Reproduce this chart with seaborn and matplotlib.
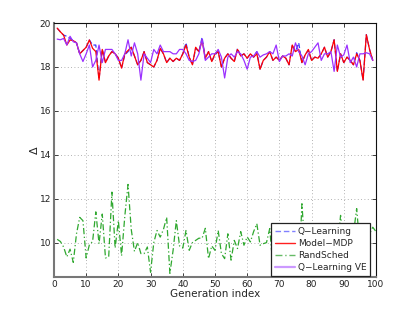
import numpy as np
import pandas as pd
import seaborn as sns
import matplotlib
matplotlib.use("Agg")
import matplotlib.pyplot as plt
from matplotlib.lines import Line2D

# ---- data ----
gen_upper = list(range(1, 100))
gen_rand = list(range(1, 101))

model_mdp = [19.77, 19.6, 19.45, 19.0, 19.23, 19.2, 19.1, 18.6, 18.75, 18.9,
             19.23, 18.85, 18.7, 17.4, 18.8, 18.2, 18.5, 18.7, 18.6, 18.4,
             17.95, 18.6, 18.75, 18.9, 18.5, 18.1, 18.3, 18.7, 18.2, 18.1,
             18.0, 18.3, 18.85, 18.6, 18.2, 18.4, 18.25, 18.4, 18.3, 18.6,
             19.0, 18.45, 18.1, 18.9, 18.7, 19.2, 18.4, 18.7, 18.25, 18.6,
             18.7, 18.0, 18.4, 18.6, 18.4, 18.25, 18.8, 18.5, 18.6, 18.4,
             18.6, 18.45, 18.6, 17.9, 18.3, 18.45, 18.7, 18.3, 18.45, 18.3,
             18.5, 18.4, 18.1, 19.0, 18.7, 18.8, 18.2, 18.55, 18.8, 18.3,
             18.45, 18.4, 18.6, 18.9, 18.45, 18.7, 19.24, 17.8, 18.6, 18.2,
             18.45, 18.3, 18.1, 18.6, 18.3, 17.4, 19.47, 18.8, 18.3]

q_learning = [19.77, 19.6, 19.45, 19.4, 19.3, 19.2, 19.1, 18.6, 18.75, 18.9,
              19.23, 19.0, 19.0, 17.45, 18.8, 18.2, 18.5, 18.7, 18.6, 18.4,
              17.95, 18.55, 18.7, 18.9, 18.5, 18.1, 18.3, 18.7, 18.2, 18.1,
              18.0, 18.3, 18.85, 18.6, 18.2, 18.4, 18.25, 18.4, 18.3, 18.6,
              19.1, 18.45, 18.1, 18.85, 18.7, 19.35, 18.4, 18.7, 18.25, 18.55,
              18.7, 18.0, 18.4, 18.6, 18.4, 18.25, 18.85, 18.5, 18.6, 18.4,
              18.6, 18.45, 18.7, 17.9, 18.3, 18.45, 18.7, 18.3, 18.45, 18.3,
              18.5, 18.4, 18.1, 19.0, 18.7, 19.1, 18.2, 18.55, 18.75, 18.3,
              18.45, 18.4, 18.6, 18.9, 18.45, 18.7, 19.24, 17.8, 18.6, 18.2,
              18.45, 18.3, 18.1, 18.65, 18.3, 17.4, 19.47, 18.8, 18.3]

rand_sched = [10.15, 10.05, 9.8, 9.35, 9.7, 9.1, 10.4, 11.15, 11.0, 9.3,
              9.9, 10.05, 11.4, 9.95, 11.3, 9.3, 9.35, 12.3, 9.75, 11.0,
              9.4, 11.2, 12.65, 10.6, 9.6, 10.0, 9.5, 9.5, 9.8, 8.65,
              10.0, 10.55, 10.25, 10.6, 11.15, 8.6, 9.65, 11.0, 9.85, 9.75,
              10.55, 9.65, 10.0, 10.1, 10.2, 10.2, 10.65, 9.27, 9.85, 9.65,
              10.55, 9.5, 9.27, 10.4, 9.2, 10.1, 9.73, 10.5, 9.88, 10.26,
              10.03, 10.5, 10.86, 9.88, 9.95, 10.0, 10.64, 8.9, 10.1, 9.8,
              10.03, 10.26, 9.73, 10.33, 9.8, 8.45, 11.77, 9.5, 10.3, 9.6,
              10.4, 9.9, 10.2, 9.4, 10.5, 9.8, 10.3, 9.7, 11.24, 9.9,
              10.3, 9.6, 10.4, 11.55, 9.8, 10.2, 9.9, 10.4, 10.7, 10.5]

q_learning_ve = [19.27, 19.24, 19.3, 19.0, 19.4, 19.15, 19.1, 18.6, 18.25, 18.6,
                 19.0, 18.0, 18.3, 19.0, 18.2, 18.8, 18.8, 18.8, 18.6, 18.3,
                 18.3, 18.6, 19.24, 18.5, 19.1, 18.6, 17.4, 18.6, 18.4, 18.2,
                 18.8, 18.6, 19.0, 18.7, 18.7, 18.7, 18.6, 18.6, 18.8, 18.8,
                 18.6, 18.3, 18.25, 18.3, 18.6, 19.27, 18.3, 18.45, 18.6, 18.6,
                 18.8, 18.45, 17.5, 18.45, 18.6, 18.45, 18.7, 18.6, 18.3, 17.9,
                 18.45, 18.5, 18.7, 18.45, 18.55, 18.6, 18.7, 18.6, 19.0, 18.25,
                 18.5, 18.5, 18.6, 18.5, 19.1, 18.7, 18.5, 18.1, 18.6, 18.7,
                 18.9, 19.1, 18.3, 18.6, 18.6, 18.7, 17.8, 19.0, 18.45, 18.55,
                 19.0, 18.2, 18.45, 18.0, 18.6, 18.6, 18.65, 18.6, 18.3]

labels = ["Q\u2212Learning", "Model\u2212MDP", "RandSched", "Q\u2212Learning VE"]
x_ticks = list(range(0, 101, 10))
y_ticks = [10, 12, 14, 16, 18, 20]

# ---- style ----
sns.set_theme(style="white")
plt.rcParams['font.family'] = ['DejaVu Sans']
plt.rcParams['xtick.direction'] = 'in'
plt.rcParams['ytick.direction'] = 'in'

fig = plt.figure(figsize=(4.15, 3.12), dpi=100, facecolor='white')
ax = fig.add_axes([0.130, 0.112, 0.776, 0.814])
ax.set_facecolor('white')

c_blue = '#3a3aff'
c_red = '#ff0000'
c_green = '#2fa82f'
c_purple = '#9b30ff'

sns.lineplot(x=gen_upper, y=q_learning, ax=ax, color=c_blue, lw=0.9,
             linestyle=(0, (4, 2)), zorder=3)
sns.lineplot(x=gen_upper, y=model_mdp, ax=ax, color=c_red, lw=0.9, zorder=4)
sns.lineplot(x=gen_rand, y=rand_sched, ax=ax, color=c_green, lw=0.9,
             linestyle=(0, (5, 2, 1, 2)), zorder=3)
sns.lineplot(x=gen_upper, y=q_learning_ve, ax=ax, color=c_purple, lw=0.9, zorder=5)

ax.set_xlim(0, 100)
ax.set_ylim(8.43, 20)
ax.set_xticks(x_ticks)
ax.set_yticks(y_ticks)
ax.tick_params(labelsize=6.5, length=3, width=0.6, colors='#222222',
               top=True, right=True, bottom=True, left=True, pad=2)
ax.grid(True, linestyle=(0, (1, 3)), color='#999999', lw=0.6)
for s in ['top', 'right']:
    ax.spines[s].set_color('#111111')
    ax.spines[s].set_linewidth(0.8)
for s in ['left', 'bottom']:
    ax.spines[s].set_color('#777777')
    ax.spines[s].set_linewidth(1.5)

ax.set_xlabel("Generation index", fontsize=7.5, labelpad=0)
ax.set_ylabel("\u0394", fontsize=8, labelpad=0)

handles = [
    Line2D([], [], color='#8080ff', lw=1.0, linestyle=(0, (4, 2))),
    Line2D([], [], color='#ff2020', lw=1.0),
    Line2D([], [], color='#66bb66', lw=1.0, linestyle=(0, (5, 2, 1, 2))),
    Line2D([], [], color='#cc99ff', lw=1.6),
]
leg = ax.legend(handles, labels, loc='lower right', fontsize=6.5,
                frameon=True, fancybox=False, framealpha=1,
                edgecolor='#222222', borderpad=0.4, labelspacing=0.35,
                handlelength=2.2, handletextpad=0.3,
                bbox_to_anchor=(0.981, 0.004), borderaxespad=0)
leg.get_frame().set_linewidth(0.9)
leg.set_zorder(10)

fig.savefig("out.png", dpi=100, facecolor='white')
